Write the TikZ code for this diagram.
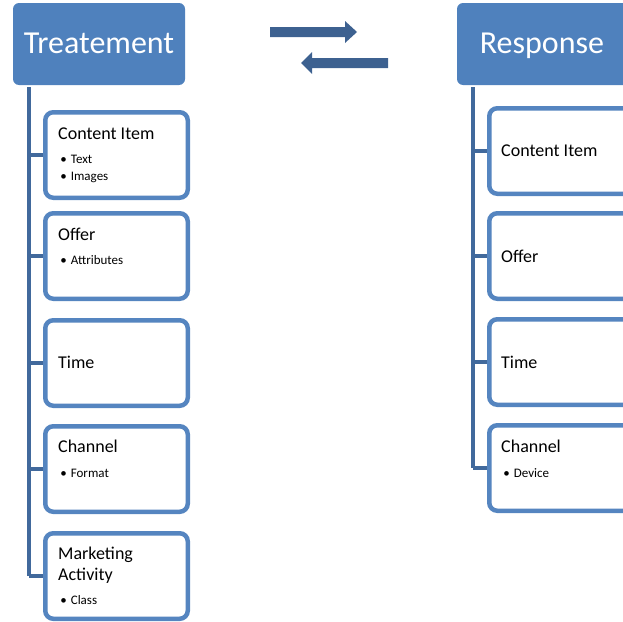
\documentclass[tikz,border=0pt]{standalone}
\usepackage{fontspec}
\setmainfont{Carlito}
\definecolor{hdr}{HTML}{4F81BD}
\definecolor{bord}{HTML}{5585C0}
\definecolor{trunk}{HTML}{41699C}
\definecolor{arr}{HTML}{3D6190}
\tikzset{
  header/.style={fill=hdr, rounded corners=6pt, minimum width=172pt, minimum height=82pt, inner sep=0pt, text=white, font=\fontsize{31}{31}\selectfont},
  itembox/.style={draw=bord, line width=4.5pt, fill=white, rounded corners=8pt, minimum width=142.5pt, minimum height=85.5pt, inner sep=0pt},
  ttl/.style={anchor=base west, inner sep=0pt, font=\fontsize{18}{18}\selectfont},
  bul/.style={anchor=base west, inner sep=0pt, font=\fontsize{13}{13}\selectfont},
  hdrtext/.style={anchor=base, inner sep=0pt, text=white, font=\fontsize{32}{32}\selectfont},
  trunkline/.style={draw=trunk, line width=4pt},
  arrowshape/.style={fill=arr}
}
\begin{document}
\begin{tikzpicture}[x=1pt,y=-1pt]
\useasboundingbox (0,0) rectangle (623,621);
\clip (0,0) rectangle (623,621);
% headers
\node[header] (th) at (99,44) {};
\node[hdrtext] (tht) at (99,53) {Treatement};
\node[header] (rh) at (543,44) {};
\node[hdrtext] (rht) at (542,53) {Response};
% arrows
\fill[arrowshape] (270,27) -- (345,27) -- (345,21) -- (357,32) -- (345,43) -- (345,37) -- (270,37) -- cycle;
\fill[arrowshape] (388,58) -- (312,58) -- (312,52) -- (301,63) -- (312,74) -- (312,68) -- (388,68) -- cycle;
% left trunk
\coordinate (lt) at (28.5,87);
\coordinate (lb) at (28.5,576);
\draw[trunkline] (lt) -- (lb);
% right trunk
\coordinate (rt) at (472.5,87);
\coordinate (rb) at (472.5,468);
\draw[trunkline] (rt) -- (rb);
% left boxes
\node[itembox] (l1) at (116.5,155) {};
\node[itembox] (l2) at (116.5,256) {};
\node[itembox] (l3) at (116.5,363) {};
\node[itembox] (l4) at (116.5,469) {};
\node[itembox] (l5) at (116.5,576) {};
\foreach \n in {l1,l2,l3,l4,l5}{
  \draw[trunkline] (lt |- \n.west) -- (\n.west);
}
% right boxes
\node[itembox] (r1) at (560.5,151) {};
\node[itembox] (r2) at (560.5,256) {};
\node[itembox] (r3) at (560.5,362) {};
\node[itembox] (r4) at (560.5,468) {};
\foreach \n in {r1,r2,r3,r4}{
  \draw[trunkline] (rt |- \n.west) -- (\n.west);
}
% left texts
\node[ttl] (l1t) at (58,139) {Content Item};
\node[bul] (l1a) at (58,163) {\,•\hspace{4pt}Text};
\node[bul] (l1b) at (58,180) {\,•\hspace{4pt}Images};
\node[ttl] (l2t) at (58,240) {Offer};
\node[bul] (l2a) at (58,264) {\,•\hspace{4pt}Attributes};
\node[ttl] (l3t) at (58,368) {Time};
\node[ttl] (l4t) at (58,452) {Channel};
\node[bul] (l4a) at (58,477) {\,•\hspace{4pt}Format};
\node[ttl] (l5t) at (58,559) {Marketing};
\node[ttl] (l5u) at (58,580) {Activity};
\node[bul] (l5a) at (58,604) {\,•\hspace{4pt}Class};
% right texts
\node[ttl] (r1t) at (501,156) {Content Item};
\node[ttl] (r2t) at (501,262) {Offer};
\node[ttl] (r3t) at (501,368) {Time};
\node[ttl] (r4t) at (501,452) {Channel};
\node[bul] (r4a) at (501,477) {\,•\hspace{4pt}Device};
\end{tikzpicture}
\end{document}
